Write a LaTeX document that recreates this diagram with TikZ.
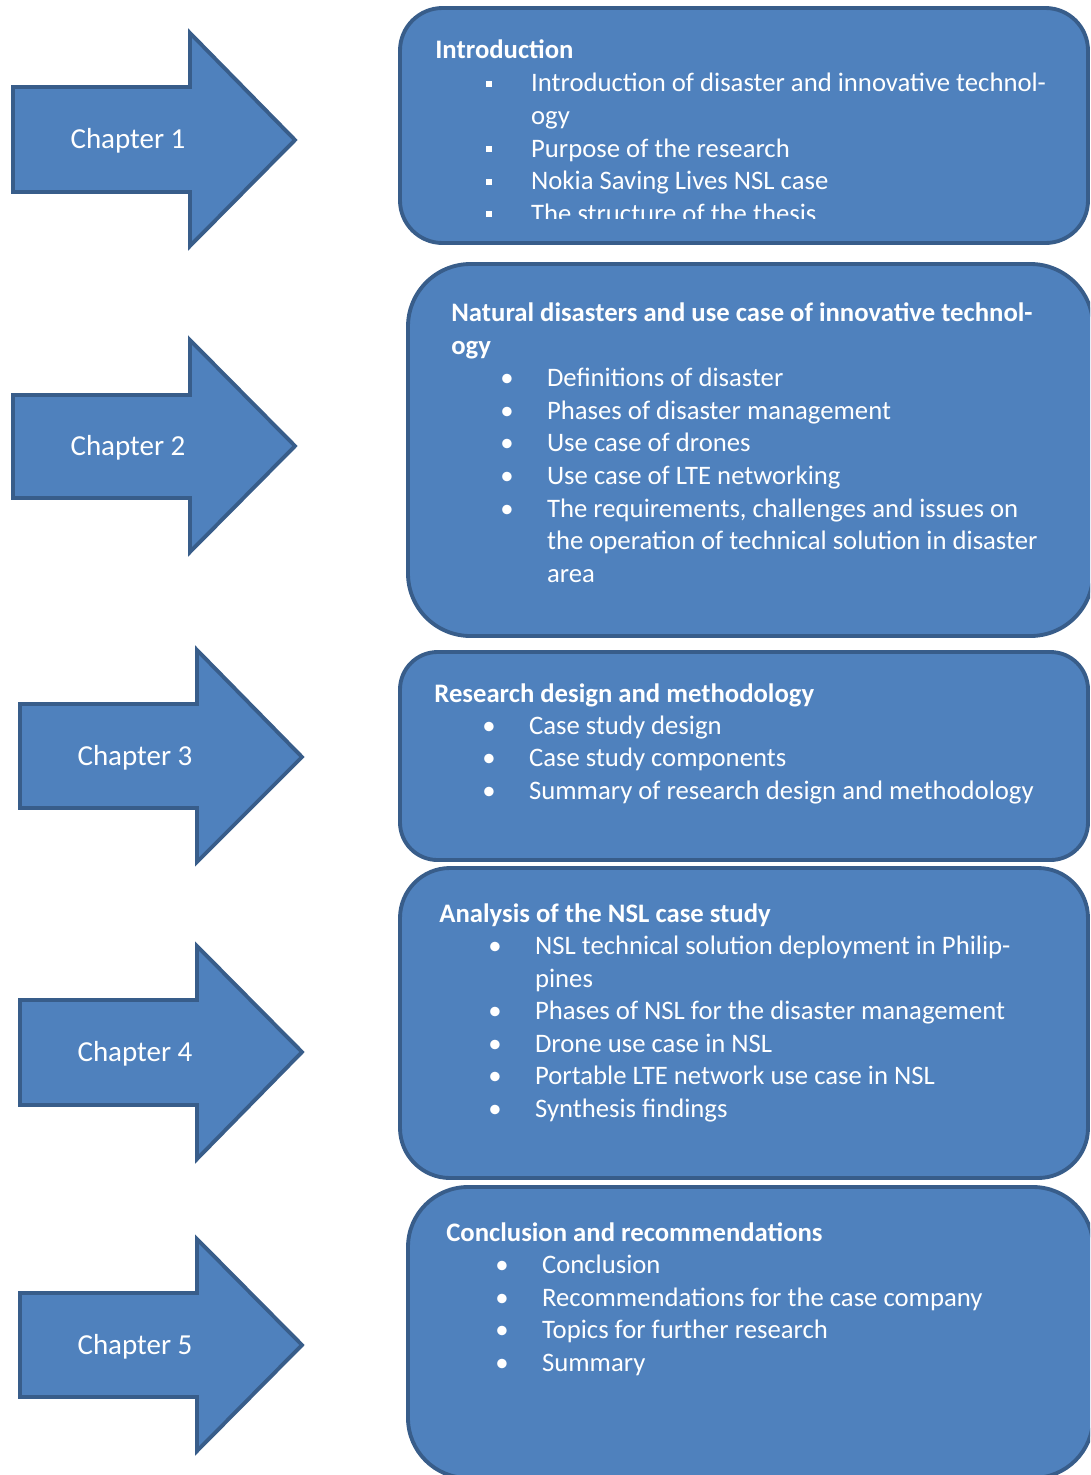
\documentclass[tikz,border=0pt]{standalone}
\usepackage{fontspec}
\setmainfont{Carlito}
\usetikzlibrary{positioning}
\definecolor{boxfill}{HTML}{4F81BD}
\definecolor{boxline}{HTML}{385D8A}
\tikzset{
  chaparrow/.style={draw=boxline,fill=boxfill,line width=2.2pt,line join=miter},
  chapbox/.style={draw=boxline,fill=boxfill,line width=2.2pt},
  chaplabel/.style={text=white,font=\fontsize{16.5}{20}\selectfont,inner sep=0pt},
  boxtitle/.style={anchor=base west,text=white,font=\fontsize{15.2}{18.5}\selectfont\bfseries,inner sep=0pt,align=left},
  boxlist/.style={anchor=base west,text=white,font=\fontsize{15.2}{18.5}\selectfont,inner sep=0pt,align=left}
}
\newcommand{\sqitem}{\makebox[25.5pt][l]{\raisebox{2.8pt}{\rule{3.4pt}{3.4pt}}}}
\newcommand{\dotitem}{\makebox[26.6pt][l]{\textbullet}}
\newcommand{\noitem}{\hspace*{26.6pt}}

\begin{document}
\begin{tikzpicture}[x=0.02cm,y=-0.02cm]
    \useasboundingbox (0,0) rectangle (1090,1475);
    \clip (0,0) rectangle (1090,1475);
    % chapter arrows
    \draw[chaparrow] (13,87) -- (190,87) -- (190,33) -- (295,140) -- (190,246) -- (190,192) -- (13,192) -- cycle;
    \draw[chaparrow] (13,395) -- (190,395) -- (190,340) -- (295,446) -- (190,552) -- (190,498) -- (13,498) -- cycle;
    \draw[chaparrow] (20,704) -- (197,704) -- (197,650) -- (302,757) -- (197,862) -- (197,808) -- (20,808) -- cycle;
    \draw[chaparrow] (20,1000) -- (197,1000) -- (197,946) -- (302,1052) -- (197,1159) -- (197,1105) -- (20,1105) -- cycle;
    \draw[chaparrow] (20,1293) -- (197,1293) -- (197,1239) -- (302,1345) -- (197,1451) -- (197,1397) -- (20,1397) -- cycle;
    \node[chaplabel] (ch1) at (128,141) {Chapter 1};
    \node[chaplabel] (ch2) at (128,448) {Chapter 2};
    \node[chaplabel] (ch3) at (135,758) {Chapter 3};
    \node[chaplabel] (ch4) at (135,1054) {Chapter 4};
    \node[chaplabel] (ch5) at (135,1347) {Chapter 5};
    % content boxes
    \draw[chapbox,rounded corners=0.85cm] (400,8) rectangle (1088,243);
    \draw[chapbox,rounded corners=1.25cm] (408,264) rectangle (1093,636);
    \draw[chapbox,rounded corners=0.75cm] (400,652) rectangle (1088,860);
    \draw[chapbox,rounded corners=1.0cm] (400,868) rectangle (1088,1178);
    \draw[chapbox,rounded corners=1.2cm] (408,1187) rectangle (1093,1478);
    % chapter 1 text (cut off at the bottom)
    \begin{scope}
      \clip (400,8) rectangle (1088,218);
      \node[boxtitle] (t1) at (435,58) {Introduction};
      \node[boxlist] (l1) at (486,222) {\sqitem Introduction of disaster and innovative technol-\\
        \hspace*{25.5pt}ogy\\
        \sqitem Purpose of the research\\
        \sqitem Nokia Saving Lives NSL case\\
        \sqitem The structure of the thesis};
    \end{scope}
    % chapter 2 text
    \node[boxtitle] (t2) at (451,354) {Natural disasters and use case of innovative technol-\\ogy};
    \node[boxlist] (l2) at (500,582) {\dotitem Definitions of disaster\\
      \dotitem Phases of disaster management\\
      \dotitem Use case of drones\\
      \dotitem Use case of LTE networking\\
      \dotitem The requirements, challenges and issues on\\
      \noitem the operation of technical solution in disaster\\
      \noitem area};
    % chapter 3 text
    \node[boxtitle] (t3) at (434,702) {Research design and methodology};
    \node[boxlist] (l3) at (482,799) {\dotitem Case study design\\
      \dotitem Case study components\\
      \dotitem Summary of research design and methodology};
    % chapter 4 text
    \node[boxtitle] (t4) at (439,922) {Analysis of the NSL case study};
    \node[boxlist] (l4) at (488,1117) {\dotitem NSL technical solution deployment in Philip-\\
      \noitem pines\\
      \dotitem Phases of NSL for the disaster management\\
      \dotitem Drone use case in NSL\\
      \dotitem Portable LTE network use case in NSL\\
      \dotitem Synthesis findings};
    % chapter 5 text
    \node[boxtitle] (t5) at (446,1241) {Conclusion and recommendations};
    \node[boxlist] (l5) at (495,1371) {\dotitem Conclusion\\
      \dotitem Recommendations for the case company\\
      \dotitem Topics for further research\\
      \dotitem Summary};
\end{tikzpicture}
\end{document}
